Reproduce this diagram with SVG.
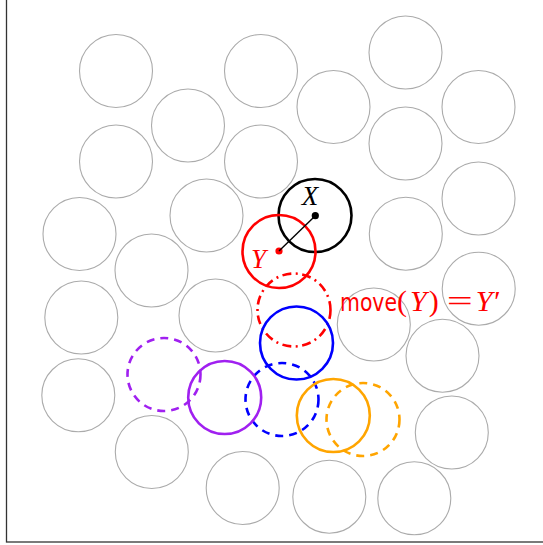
<svg xmlns="http://www.w3.org/2000/svg" width="543" height="545" viewBox="0 0 543 545">
<style>
.bg{fill:none;stroke:#ababab;stroke-width:1.1}
.c{fill:none;stroke-width:2.6}
.dash{stroke-dasharray:8 6}
.dd{stroke-dasharray:9 4.5 2 4.5}
.m{font-family:"Liberation Serif","DejaVu Serif",serif;font-style:italic}
.r{font-family:"Liberation Serif","DejaVu Serif",serif;font-style:normal}
.s{font-family:"DejaVu Sans","Liberation Sans",sans-serif}
</style>
<rect x="6.5" y="-5" width="545" height="547" fill="none" stroke="#333" stroke-width="1.3"/>
<g id="background">
<circle class="bg" cx="116" cy="71" r="36.5"/>
<circle class="bg" cx="261" cy="71" r="36.5"/>
<circle class="bg" cx="405.5" cy="52.5" r="36.5"/>
<circle class="bg" cx="188" cy="125.5" r="36.5"/>
<circle class="bg" cx="333.5" cy="107" r="36.5"/>
<circle class="bg" cx="478.5" cy="107" r="36.5"/>
<circle class="bg" cx="116" cy="161.5" r="36.5"/>
<circle class="bg" cx="261" cy="161.5" r="36.5"/>
<circle class="bg" cx="405.5" cy="143.5" r="36.5"/>
<circle class="bg" cx="206.5" cy="215.5" r="36.5"/>
<circle class="bg" cx="478.5" cy="198.5" r="36.5"/>
<circle class="bg" cx="79.5" cy="234" r="36.5"/>
<circle class="bg" cx="151.5" cy="270.5" r="36.5"/>
<circle class="bg" cx="405.8" cy="233.7" r="36.5"/>
<circle class="bg" cx="81.3" cy="317.5" r="36.5"/>
<circle class="bg" cx="215.5" cy="315.5" r="36.5"/>
<circle class="bg" cx="478.7" cy="288.7" r="36.5"/>
<circle class="bg" cx="373.8" cy="324.5" r="36.5"/>
<circle class="bg" cx="442.5" cy="355.7" r="36.5"/>
<circle class="bg" cx="78.3" cy="395.3" r="36.5"/>
<circle class="bg" cx="151.8" cy="452" r="36.5"/>
<circle class="bg" cx="451.8" cy="432.5" r="36.5"/>
<circle class="bg" cx="242.7" cy="488" r="36.5"/>
<circle class="bg" cx="329.3" cy="496.7" r="36.5"/>
<circle class="bg" cx="414.3" cy="498.3" r="36.5"/>
</g>
<g id="X">
<circle class="c" cx="315" cy="215.5" r="36.5" stroke="#000"/>
<circle cx="315.3" cy="215.7" r="3.6" fill="#000"/>
<text class="m" x="310" y="205" font-size="27" text-anchor="middle" fill="#000">X</text>
</g>
<g id="Y">
<circle class="c" cx="279" cy="251.5" r="36.5" stroke="#f00"/>
<circle cx="279" cy="251" r="3.6" fill="#f00"/>
<text class="m" x="258.5" y="268" font-size="27" text-anchor="middle" fill="#f00">Y</text>
</g>
<g id="connectors">
<line x1="279" y1="251" x2="315.3" y2="215.7" stroke="#000" stroke-width="1.4"/>
</g>
<g id="Yprime">
<circle class="c dd" cx="294" cy="310" r="36.5" stroke="#f00"/>
<text x="340" y="311" fill="#f00"><tspan class="s" font-size="24" textLength="57" lengthAdjust="spacingAndGlyphs">move</tspan><tspan class="r" font-size="30">(</tspan><tspan class="m" font-size="30" dx="3">Y</tspan><tspan class="r" font-size="30" dx="2">)</tspan><tspan class="r" font-size="30" dx="8" textLength="26" lengthAdjust="spacingAndGlyphs">=</tspan><tspan class="m" font-size="30" dx="3">Y′</tspan></text>
</g>
<g id="blue">
<circle class="c" cx="296.5" cy="343" r="36.5" stroke="#00f"/>
<circle class="c dash" cx="282" cy="399.5" r="36.5" stroke="#00f"/>
</g>
<g id="purple">
<circle class="c" cx="224.7" cy="397.5" r="36.5" stroke="#a020f0"/>
<circle class="c dash" cx="164" cy="374.5" r="36.5" stroke="#a020f0"/>
</g>
<g id="orange">
<circle class="c" cx="333.3" cy="415.5" r="36.5" stroke="#ffa500"/>
<circle class="c dash" cx="363" cy="419.5" r="36.5" stroke="#ffa500"/>
</g>
</svg>
